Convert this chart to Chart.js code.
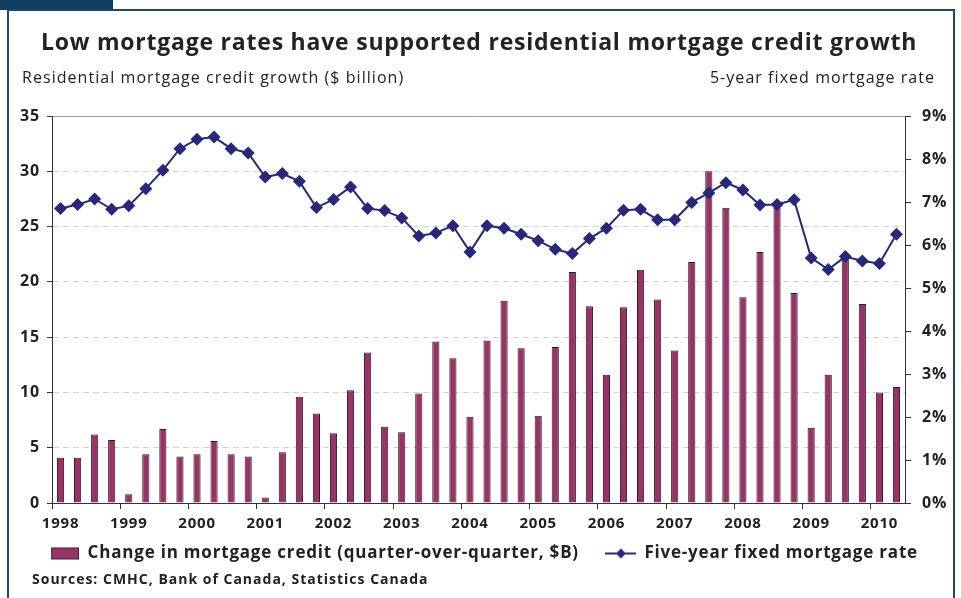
<!DOCTYPE html>
<html>
<head>
<meta charset="utf-8">
<script src="https://cdn.jsdelivr.net/npm/chart.js@4.4.0/dist/chart.umd.min.js"></script>
<style>
  html, body { margin: 0; padding: 0; background: #fff; }
  #wrap { position: relative; width: 961px; height: 598px; }
</style>
</head>
<body>
<div id="wrap"><canvas id="chart" width="961" height="598"></canvas></div>
<script>
const years = ['1998', '1999', '2000', '2001', '2002', '2003', '2004', '2005', '2006', '2007', '2008', '2009', '2010'];
const quarterNames = ['Q1', 'Q2', 'Q3', 'Q4'];
// quarterly, 1998 Q1 .. 2010 Q2
const quarters = years.flatMap((y) => quarterNames.map((q) => `${y} ${q}`)).slice(0, 50);

const creditChange = [
  4.1, 4.1, 6.2, 5.7, 0.8, 4.4, 6.7, 4.2, 4.4, 5.6, 4.4, 4.2,
  0.5, 4.6, 9.6, 8.1, 6.3, 10.2, 13.6, 6.9, 6.4, 9.9, 14.6, 13.1,
  7.8, 14.7, 18.3, 14.0, 7.9, 14.1, 20.9, 17.8, 11.6, 17.7, 21.1, 18.4,
  13.8, 21.8, 30.0, 26.7, 18.6, 22.7, 26.7, 19.0, 6.8, 11.6, 22.0, 18.0,
  10.0, 10.5,
];
const mortgageRate = [
  6.85, 6.94, 7.07, 6.83, 6.91, 7.31, 7.74, 8.24, 8.46, 8.51, 8.24, 8.14,
  7.58, 7.66, 7.48, 6.87, 7.06, 7.35, 6.85, 6.80, 6.63, 6.21, 6.28, 6.45,
  5.84, 6.45, 6.39, 6.25, 6.10, 5.90, 5.80, 6.15, 6.39, 6.81, 6.83, 6.59,
  6.59, 6.99, 7.21, 7.45, 7.28, 6.93, 6.94, 7.05, 5.70, 5.43, 5.73, 5.63,
  5.57, 6.25,
];

const title = 'Low mortgage rates have supported residential mortgage credit growth';
const leftTitle = 'Residential mortgage credit growth ($ billion)';
const rightTitle = '5-year fixed mortgage rate';
const sources = 'Sources: CMHC, Bank of Canada, Statistics Canada';

const BAR = '#993366';
const LINE = '#28287a';
const FONT = '"Open Sans", Lato, sans-serif';

const swatch = (draw) => {
  const c = document.createElement('canvas');
  c.width = 46;
  c.height = 14;
  draw(c.getContext('2d'));
  return c;
};
const barSwatch = swatch((ctx) => {
  ctx.fillStyle = BAR;
  ctx.fillRect(18, 1, 28, 12);
  ctx.strokeStyle = '#3a2030';
  ctx.strokeRect(18.5, 1.5, 27, 11);
});
const lineSwatch = swatch((ctx) => {
  ctx.strokeStyle = LINE;
  ctx.lineWidth = 2;
  ctx.beginPath();
  ctx.moveTo(15, 7);
  ctx.lineTo(46, 7);
  ctx.stroke();
  ctx.fillStyle = LINE;
  ctx.beginPath();
  ctx.moveTo(31, 2);
  ctx.lineTo(36, 7);
  ctx.lineTo(31, 12);
  ctx.lineTo(26, 7);
  ctx.closePath();
  ctx.fill();
});

// the reference face (Gill Sans) runs wide, so open the letters up a little
const spacing = {
  id: 'spacing',
  beforeUpdate(chart) { chart.ctx.letterSpacing = '0.8px'; },
  beforeDraw(chart) { chart.ctx.letterSpacing = '0.8px'; },
};

const decor = {
  id: 'decor',
  beforeDraw(chart) {
    const { ctx } = chart;
    ctx.save();
    ctx.fillStyle = '#0d3c5e';
    ctx.fillRect(0, 0, 113, 10);
    ctx.strokeStyle = '#1b4a6b';
    ctx.lineWidth = 2;
    ctx.beginPath();
    ctx.moveTo(8, 640);
    ctx.lineTo(8, 10);
    ctx.lineTo(954, 10);
    ctx.lineTo(954, 640);
    ctx.stroke();
    ctx.restore();
  },
  afterDraw(chart) {
    const { ctx } = chart;
    ctx.save();
    ctx.fillStyle = '#222';
    ctx.textBaseline = 'middle';
    ctx.letterSpacing = '0.78px';
    ctx.font = `bold 23px ${FONT}`;
    ctx.textAlign = 'center';
    ctx.fillText(title, 479, 43);
    ctx.letterSpacing = '1.05px';
    ctx.font = `16px ${FONT}`;
    ctx.textAlign = 'left';
    ctx.fillText(leftTitle, 22, 78);
    ctx.textAlign = 'right';
    ctx.fillText(rightTitle, 935, 78);
    ctx.letterSpacing = '1px';
    ctx.font = `bold 14px ${FONT}`;
    ctx.textAlign = 'left';
    ctx.fillText(sources, 32, 580);
    ctx.restore();
  },
};

new Chart(document.getElementById('chart'), {
  data: {
    labels: quarters,
    datasets: [
      {
        type: 'bar',
        label: 'Change in mortgage credit (quarter-over-quarter, $B)',
        data: creditChange,
        backgroundColor: BAR,
        borderColor: '#2e1a26',
        borderWidth: 1,
        barPercentage: 0.42,
        categoryPercentage: 1,
        yAxisID: 'y',
        order: 2,
      },
      {
        type: 'line',
        label: 'Five-year fixed mortgage rate',
        data: mortgageRate,
        borderColor: LINE,
        backgroundColor: LINE,
        borderWidth: 2,
        pointStyle: 'rectRot',
        pointRadius: 6.5,
        pointBorderWidth: 0,
        tension: 0,
        yAxisID: 'y1',
        order: 1,
      },
    ],
  },
  options: {
    responsive: false,
    animation: false,
    devicePixelRatio: 1,
    layout: { padding: { top: 116, left: 0, right: 10, bottom: 26 } },
    plugins: {
      tooltip: { enabled: false },
      legend: {
        position: 'bottom',
        labels: {
          usePointStyle: true,
          pointStyleWidth: 46,
          padding: 11,
          color: '#222',
          font: { family: FONT, size: 17, weight: 'bold' },
          generateLabels(chart) {
            const items = Chart.defaults.plugins.legend.labels.generateLabels(chart);
            items.sort((a, b) => a.datasetIndex - b.datasetIndex);
            items[0].pointStyle = barSwatch;
            items[1].pointStyle = lineSwatch;
            return items;
          },
        },
      },
    },
    scales: {
      x: {
        offset: true,
        afterFit: (scale) => { scale.height = 31; },
        grid: {
          offset: true,
          drawOnChartArea: false,
          tickLength: 6,
          tickColor: (c) => (c.index % 4 === 0 ? '#333' : 'rgba(0,0,0,0)'),
        },
        border: { color: '#333', width: 1 },
        ticks: {
          autoSkip: false,
          maxRotation: 0,
          padding: 6,
          color: '#222',
          font: { family: FONT, size: 15, weight: 'bold' },
          callback: (v, i) => (i % 4 === 0 ? years[i / 4] : ''),
        },
      },
      y: {
        position: 'left',
        min: 0,
        max: 35,
        afterFit: (scale) => { scale.width = 52; },
        ticks: {
          stepSize: 5,
          padding: 7,
          color: '#222',
          font: { family: FONT, size: 16, weight: 'bold' },
        },
        grid: {
          tickLength: 5,
          tickColor: '#333',
          color: (c) => (c.tick && (c.tick.value === 0 || c.tick.value === 35) ? 'rgba(0,0,0,0)' : '#d2d2d2'),
        },
        border: { color: '#333', width: 1, dash: [6, 4] },
      },
      y1: {
        position: 'right',
        min: 0,
        max: 9,
        afterFit: (scale) => { scale.width = 46; },
        ticks: {
          stepSize: 1,
          padding: 11,
          color: '#222',
          font: { family: FONT, size: 16, weight: 'bold' },
          callback: (v) => `${v}%`,
        },
        grid: {
          tickLength: 6,
          tickColor: '#333',
          color: (c) => (c.tick && c.tick.value === 9 ? '#a0a0a0' : 'rgba(0,0,0,0)'),
        },
        border: { color: '#333', width: 1 },
      },
    },
  },
  plugins: [spacing, decor],
});
</script>
</body>
</html>
